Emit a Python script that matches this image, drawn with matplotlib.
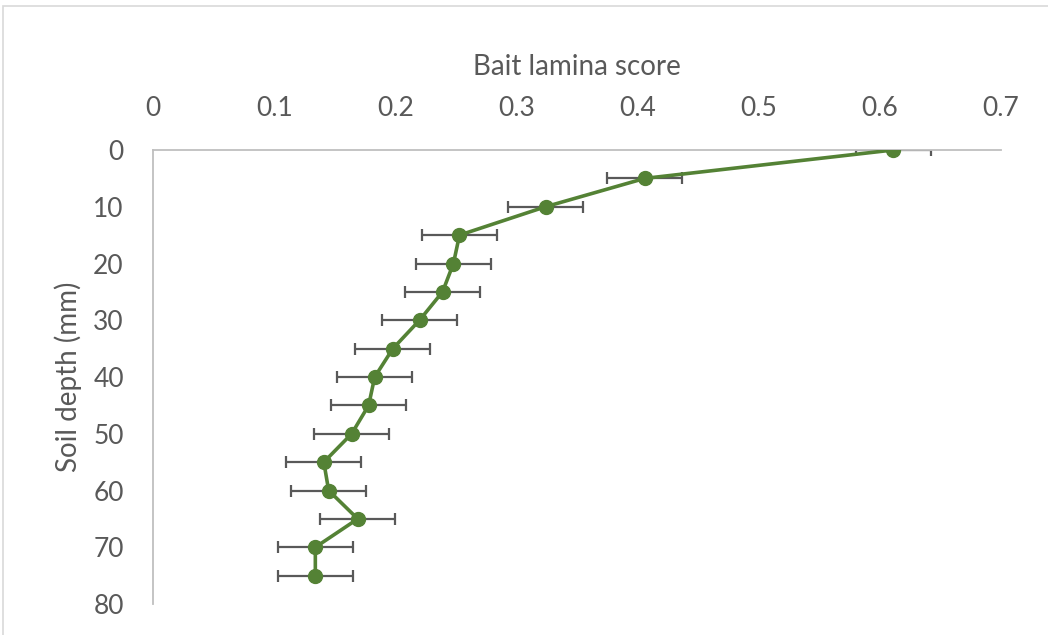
import matplotlib
matplotlib.use("Agg")
import matplotlib.pyplot as plt
from matplotlib.patches import Rectangle

# Bait lamina feeding activity by soil depth
depth_mm = [0, 5, 10, 15, 20, 25, 30, 35, 40, 45, 50, 55, 60, 65, 70, 75]
score = [0.611, 0.406, 0.324, 0.253, 0.248, 0.239, 0.220, 0.198,
         0.183, 0.178, 0.164, 0.141, 0.145, 0.169, 0.134, 0.134]
score_err = [0.031] * len(score)

x_ticks = [0, 0.1, 0.2, 0.3, 0.4, 0.5, 0.6, 0.7]
x_tick_labels = ["0", "0.1", "0.2", "0.3", "0.4", "0.5", "0.6", "0.7"]
y_ticks = [0, 10, 20, 30, 40, 50, 60, 70, 80]

plt.rcParams['font.family'] = ['Lato', 'DejaVu Sans']

fig = plt.figure(figsize=(10.48, 6.35), dpi=100)
fig.patches.append(Rectangle((3 / 1048, -0.01), 1.1, 1 - 6 / 635 + 0.01,
                             transform=fig.transFigure, fill=False,
                             edgecolor="#d9d9d9", linewidth=1.2))

ax = fig.add_axes([153 / 1048, 1 - 604 / 635, (1001 - 153) / 1048, (604 - 150) / 635])

ax.errorbar(score, depth_mm, xerr=score_err, fmt="none", ecolor="#595959",
            elinewidth=1.6, capsize=4.5, capthick=1.6, zorder=2)
ax.plot(score, depth_mm, color="#548235", linewidth=2.6, marker="o",
        markersize=10, markerfacecolor="#548235", markeredgecolor="#548235", zorder=3)

ax.set_xlim(0, 0.7)
ax.set_ylim(80, 0)
ax.set_xticks(x_ticks)
ax.set_xticklabels(x_tick_labels)
ax.set_yticks(y_ticks)
ax.xaxis.tick_top()
ax.xaxis.set_label_position("top")
ax.tick_params(axis="both", length=0, labelsize=19, labelcolor="#595959")
ax.tick_params(axis="x", pad=21)
ax.tick_params(axis="y", pad=21)

ax.set_xlabel("Bait lamina score", fontsize=20, color="#595959", labelpad=15)
ax.set_ylabel("Soil depth (mm)", fontsize=20, color="#595959", labelpad=8)

for side in ("right", "bottom"):
    ax.spines[side].set_visible(False)
for side in ("top", "left"):
    ax.spines[side].set_color("#bfbfbf")
    ax.spines[side].set_linewidth(1.3)

fig.savefig("out.png", dpi=100)
